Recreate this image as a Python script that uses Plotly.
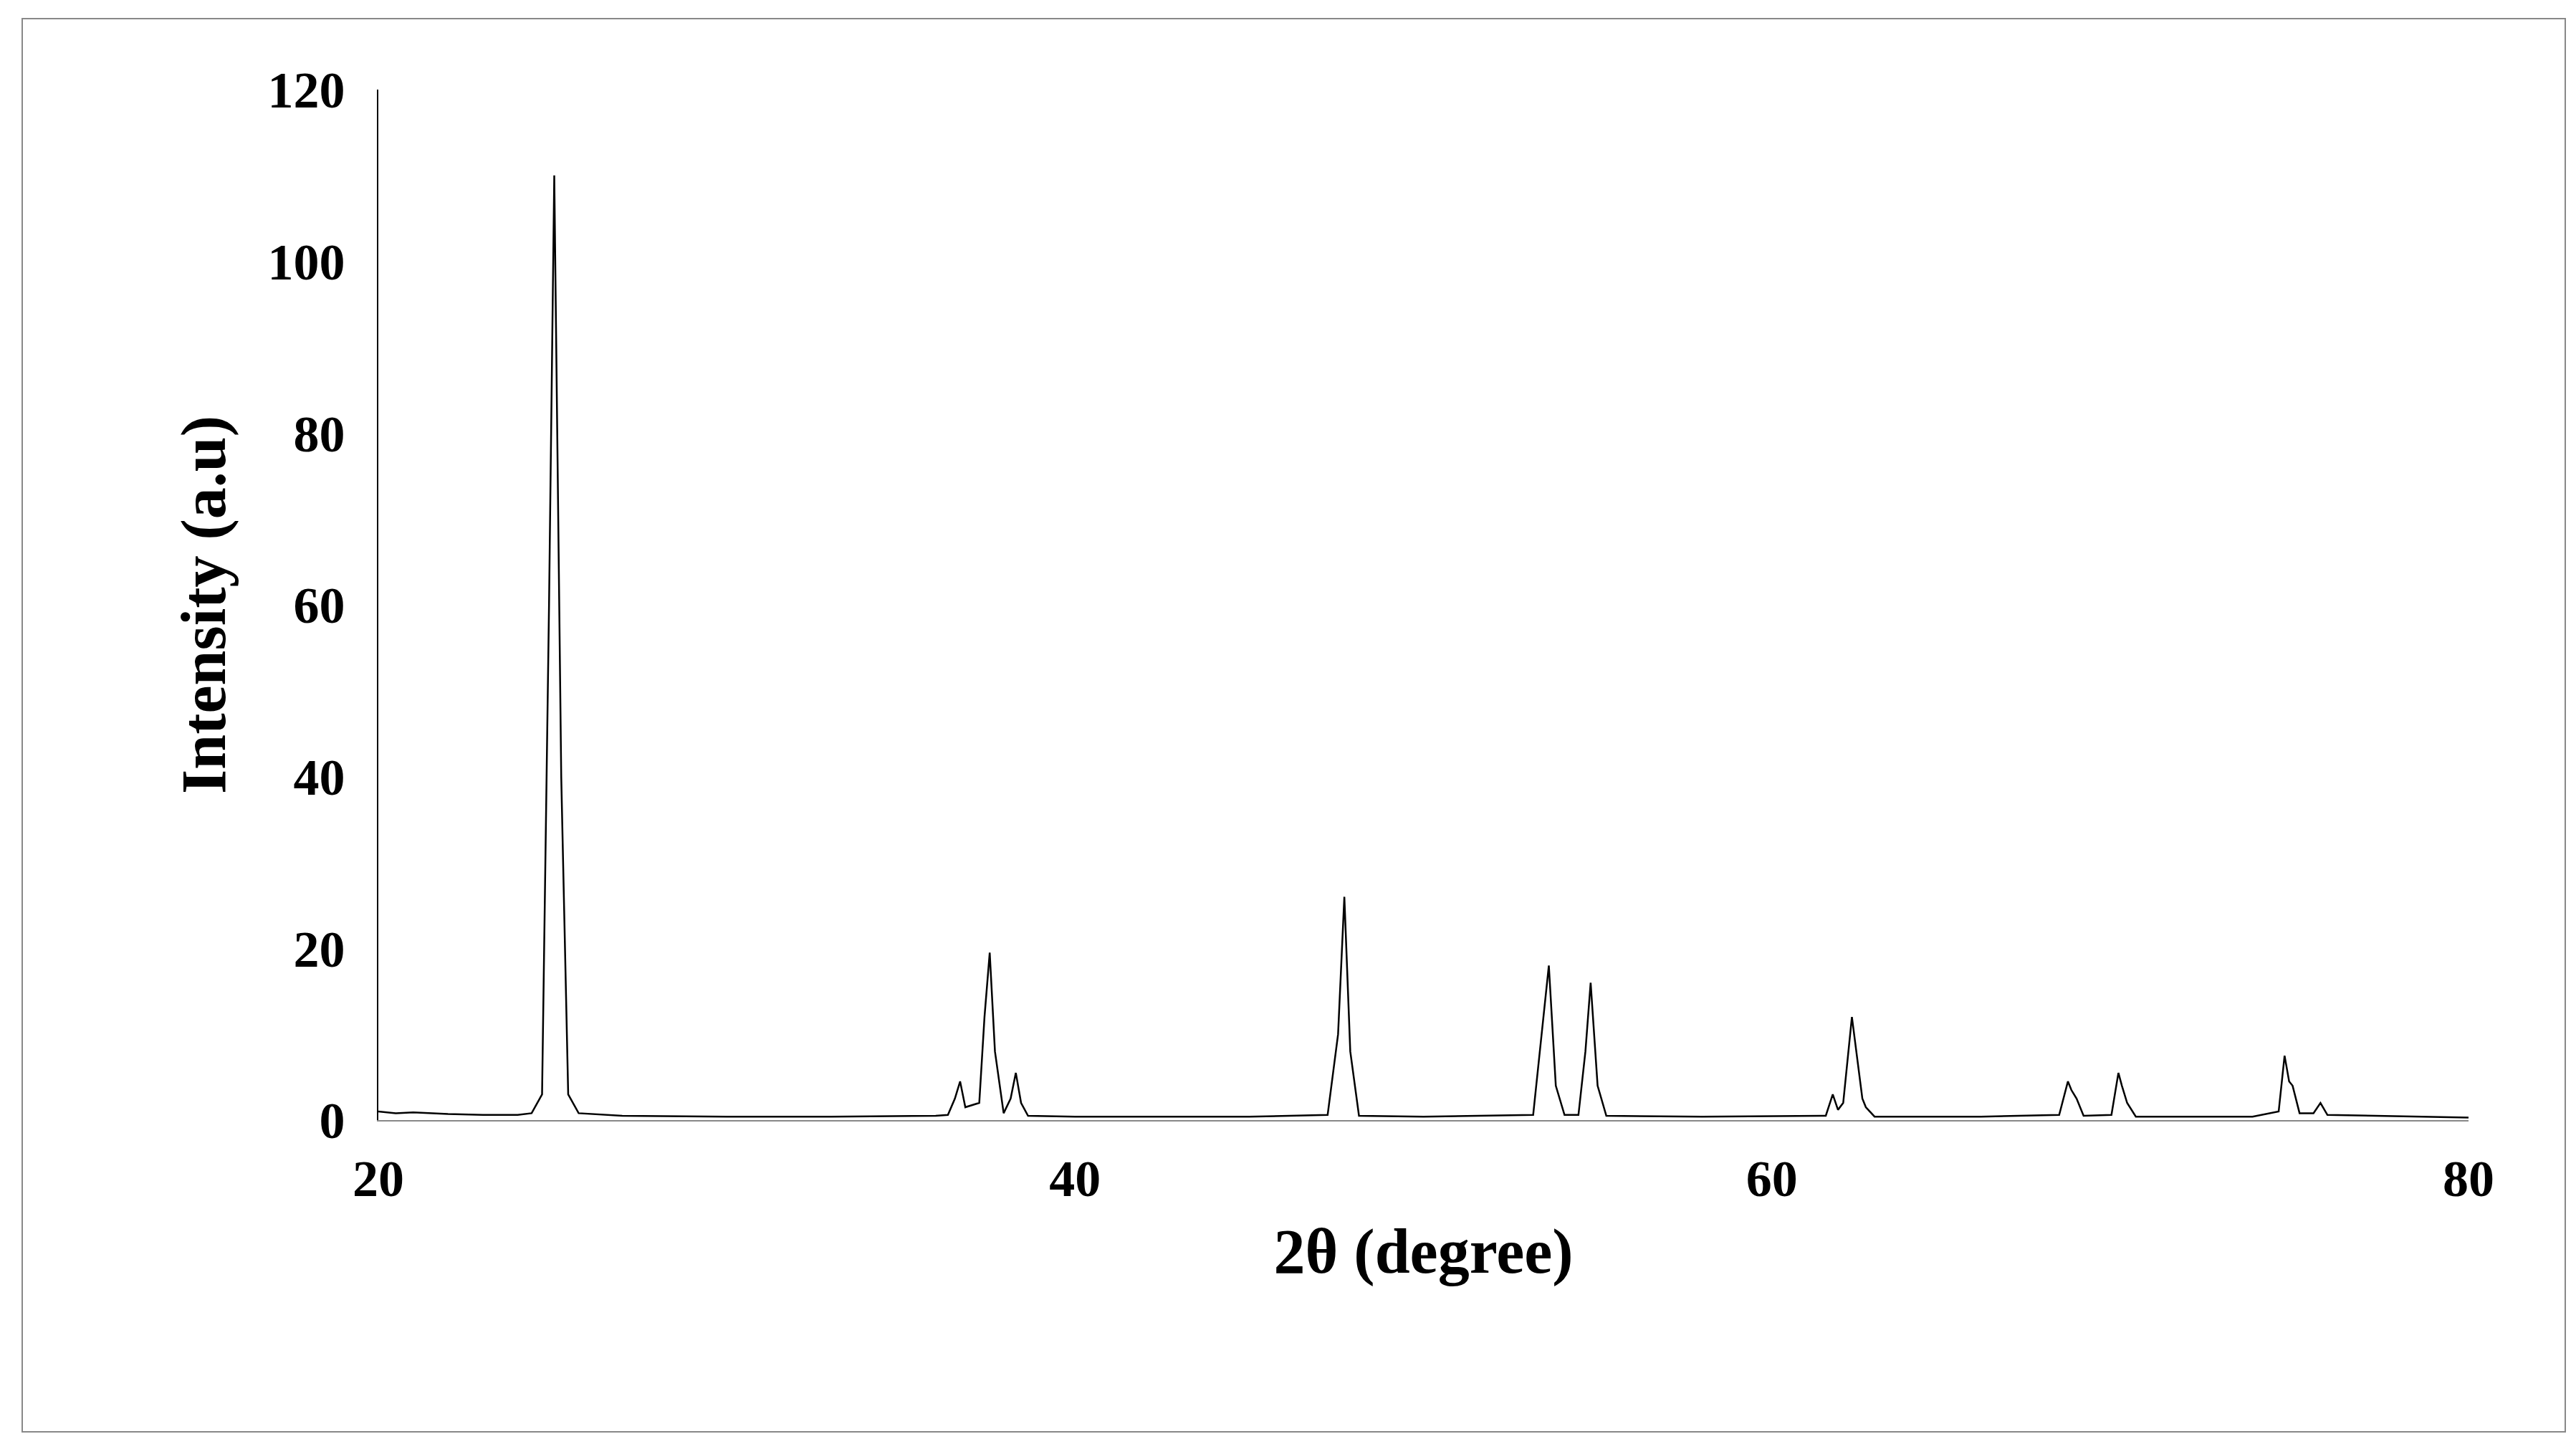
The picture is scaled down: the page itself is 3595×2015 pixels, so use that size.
import plotly.graph_objects as go

two_theta = [20, 20.5, 21, 22, 23, 24, 24.4, 24.7, 24.9, 25.05, 25.25, 25.45, 25.75, 27, 30, 33, 36,
             36.35, 36.55, 36.7, 36.85, 37.25, 37.4, 37.55, 37.7, 37.95, 38.15, 38.3, 38.45, 38.65,
             40, 45, 47.25, 47.55, 47.73, 47.9, 48.15, 50, 53.15, 53.4, 53.6, 53.8, 54.05,
             54.45, 54.65, 54.8, 55.0, 55.25, 58, 61.55, 61.75, 61.9, 62.05, 62.3, 62.47, 62.6, 62.7,
             62.95, 66, 68.25, 68.5, 68.6, 68.75, 68.95, 69.75, 69.95, 70.05, 70.2, 70.45, 73.8,
             74.55, 74.72, 74.85, 74.95, 75.15, 75.55, 75.75, 75.95, 80]
intensity = [1.0, 0.8, 0.9, 0.7, 0.6, 0.6, 0.8, 3.0, 60, 110, 40, 3.0, 0.8, 0.5, 0.4, 0.4, 0.5,
             0.6, 2.5, 4.5, 1.5, 2.0, 12, 19.5, 8, 0.8, 2.5, 5.5, 2.0, 0.5,
             0.4, 0.4, 0.6, 10, 26, 8, 0.5, 0.4, 0.6, 10, 18, 4, 0.6,
             0.6, 8, 16, 4, 0.5, 0.4, 0.5, 3, 1.2, 2, 12, 6.5, 2.5, 1.5,
             0.4, 0.4, 0.6, 4.5, 3.5, 2.5, 0.5, 0.6, 5.5, 4, 2, 0.4, 0.4,
             1.0, 7.5, 4.5, 4, 0.8, 0.8, 2.0, 0.6, 0.3]

W, H = 3595, 2015
L, R, T, B = 520, 158, 117, 460
pw, ph = W - L - R, H - T - B

font = dict(family="Liberation Serif", color="black", weight="bold")

fig = go.Figure(go.Scatter(x=two_theta, y=intensity, mode="lines",
                           line=dict(color="black", width=2.5), showlegend=False))

fig.update_xaxes(range=[20, 80], tickvals=[20, 40, 60, 80], showgrid=False, zeroline=False,
                 showline=True, linecolor="#888", linewidth=2, ticks="outside",
                 ticklen=18, tickcolor="rgba(0,0,0,0)",
                 tickfont=dict(size=72, **font),
                 title=dict(text="2θ (degree)", font=dict(size=88, **font), standoff=30))
fig.update_yaxes(range=[0, 120], tickvals=[0, 20, 40, 60, 80, 100, 120], showgrid=False,
                 zeroline=False, showline=True, linecolor="black", linewidth=2, ticks="outside",
                 ticklen=30, tickcolor="rgba(0,0,0,0)",
                 tickfont=dict(size=72, **font),
                 title=dict(text="Intensity (a.u)", font=dict(size=88, **font), standoff=30))
fig.update_layout(width=W, height=H, margin=dict(l=L, r=R, t=T, b=B),
                  plot_bgcolor="white", paper_bgcolor="white")
fig.add_shape(type="rect", xref="paper", yref="paper",
              x0=(23 - L) / pw, x1=(3572 - L) / pw,
              y0=1 - (1990 - T) / ph, y1=1 - (18 - T) / ph,
              line=dict(color="#888", width=2))
fig.write_html("out.html")
